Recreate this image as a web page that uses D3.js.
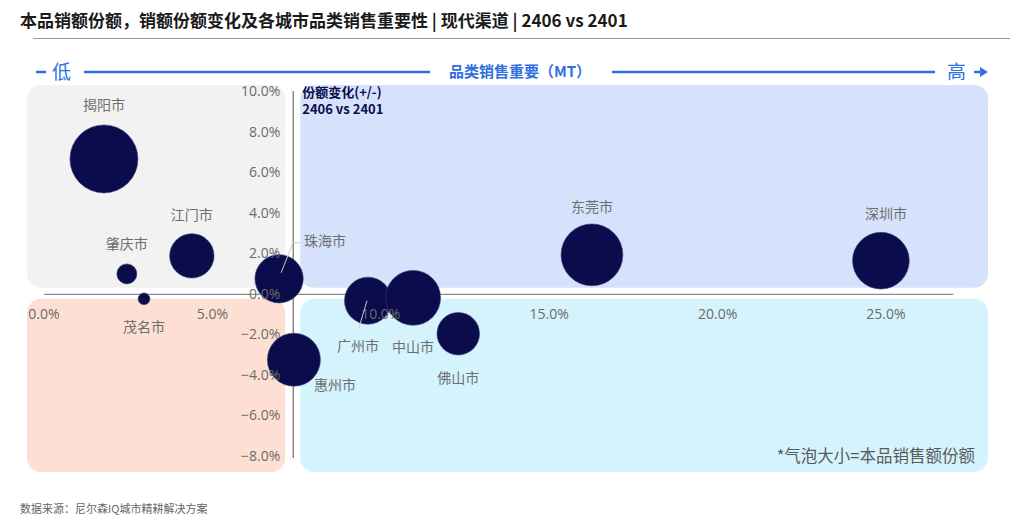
<!DOCTYPE html>
<html><head><meta charset="utf-8">
<script src="https://cdn.jsdelivr.net/npm/d3@7"></script>
<style>
body{margin:0;background:#fff;}
svg{display:block;font-family:"Noto Sans CJK SC","Noto Sans",sans-serif;}
</style></head>
<body><svg id="c" width="1024" height="523"></svg>
<script>
// ---- data ----
const cities      = ["揭阳市","江门市","肇庆市","茂名市","珠海市","惠州市","广州市","中山市","佛山市","东莞市","深圳市"];
const importance  = [1.78, 4.39, 2.46, 2.97, 6.98, 7.42, 9.62, 10.96, 12.30, 16.27, 24.85]; // x: 品类销售重要 (%)
const shareChange = [6.65, 1.87, 0.98, -0.25, 0.74, -3.25, -0.34, -0.20, -1.97, 1.92, 1.63]; // y: 份额变化 (%)
const salesShare  = [11.5, 4.9, 1.0, 0.35, 5.8, 7.0, 5.5, 7.5, 4.5, 9.5, 8.0]; // bubble size
const xTicks = [0, 5, 10, 15, 20, 25];
const yTicks = [10, 8, 6, 4, 2, 0, -2, -4, -6, -8];
const yAxisAt = 7.4; // x value where vertical axis crosses
// label offsets (dx, dy from bubble centre) and optional leader lines
const labelOffsets = [[0,-54],[0,-41],[0,-30],[0,28],[46,-38],[41,25],[-10,45],[0,49],[0,44],[0,-48],[5,-47]];
const leaders = {"珠海市":[[2,-6],[14,-36],[21,-36]], "广州市":[[-1,0],[-9,27]]};

const svg = d3.select("#c");
const x = d3.scaleLinear().domain([0, 28]).range([44, 987]);
const y = d3.scaleLinear().domain([-8, 10]).range([456, 91]);
const r = d3.scaleSqrt().domain([0, 11.5]).range([0, 34]);
const ax = x(yAxisAt), ay = y(0);

// title
svg.append("text").attr("x",20).attr("y",27).attr("font-size",17).attr("font-weight","bold").attr("fill","#1a1a1a")
  .text("本品销额份额，销额份额变化及各城市品类销售重要性 | 现代渠道 | 2406 vs 2401");
svg.append("line").attr("x1",33).attr("x2",1010).attr("y1",38.5).attr("y2",38.5).attr("stroke","#999").attr("stroke-width",1);

// header arrow
const blue = "#2f6fe0";
svg.append("line").attr("x1",36).attr("x2",46).attr("y1",72).attr("y2",72).attr("stroke",blue).attr("stroke-width",2.5);
svg.append("text").attr("x",52).attr("y",79).attr("font-size",19).attr("fill",blue).text("低");
svg.append("line").attr("x1",84).attr("x2",430).attr("y1",72).attr("y2",72).attr("stroke",blue).attr("stroke-width",2.5);
svg.append("text").attr("x",520).attr("y",77).attr("text-anchor","middle").attr("font-size",15).attr("font-weight","bold").attr("fill",blue).text("品类销售重要（MT）");
svg.append("line").attr("x1",612).attr("x2",935).attr("y1",72).attr("y2",72).attr("stroke",blue).attr("stroke-width",2.5);
svg.append("text").attr("x",947).attr("y",79).attr("font-size",19).attr("fill",blue).text("高");
svg.append("line").attr("x1",974).attr("x2",982).attr("y1",72).attr("y2",72).attr("stroke",blue).attr("stroke-width",2.5);
svg.append("path").attr("d","M980,67 L988,72 L980,77 Z").attr("fill",blue);

// quadrant backgrounds
const quads = [
  {x0:27, x1:ax-8, y0:85, y1:ay-6, fill:"#f2f2f2"},
  {x0:ax+7, x1:988, y0:85, y1:ay-6, fill:"#d6e2fb"},
  {x0:27, x1:ax-8, y0:ay+5, y1:472, fill:"#fde0d3"},
  {x0:ax+7, x1:988, y0:ay+5, y1:472, fill:"#d4f3fd"}
];
svg.selectAll("rect.q").data(quads).join("rect").attr("class","q")
  .attr("x",d=>d.x0).attr("y",d=>d.y0).attr("width",d=>d.x1-d.x0).attr("height",d=>d.y1-d.y0)
  .attr("rx",14).attr("fill",d=>d.fill);

// axis lines
svg.append("line").attr("x1",x(0)).attr("x2",x(27)).attr("y1",ay+0.5).attr("y2",ay+0.5).attr("stroke","#8c8c8c").attr("stroke-width",1.2);
svg.append("line").attr("x1",ax).attr("x2",ax).attr("y1",y(10)).attr("y2",y(-8.1)).attr("stroke","#6f6f6f").attr("stroke-width",1.2);

// y axis title
svg.append("text").attr("x",ax+9).attr("y",97).attr("font-size",13).attr("font-weight","bold").attr("fill","#0b0d4d").text("份额变化(+/-)");
svg.append("text").attr("x",ax+9).attr("y",114).attr("font-size",13).attr("font-weight","bold").attr("fill","#0b0d4d").text("2406 vs 2401");

// bubbles
const data = cities.map((c,i)=>({name:c, xv:importance[i], yv:shareChange[i], s:salesShare[i], off:labelOffsets[i]}));
svg.selectAll("circle.b").data(data).join("circle").attr("class","b")
  .attr("cx",d=>x(d.xv)).attr("cy",d=>y(d.yv)).attr("r",d=>r(d.s))
  .attr("fill","#0a0c4b").attr("stroke","#3a3f7a").attr("stroke-width",0.6);

// tick labels
const tickCol = "#6b6b6b";
svg.selectAll("text.xt").data(xTicks).join("text").attr("class","xt")
  .attr("x",d=>x(d)).attr("y",ay+25).attr("text-anchor","middle").attr("font-size",14).attr("fill",tickCol)
  .attr("font-family","'Open Sans','Noto Sans',sans-serif")
  .text(d=>d3.format(".1f")(d)+"%");
svg.selectAll("text.yt").data(yTicks).join("text").attr("class","yt")
  .attr("x",ax-13).attr("y",d=>y(d)+5).attr("text-anchor","end").attr("font-size",14).attr("fill",tickCol)
  .attr("font-family","'Open Sans','Noto Sans',sans-serif")
  .text(d=>d3.format(".1f")(d)+"%");

// leader lines
data.forEach(d=>{
  const L = leaders[d.name]; if(!L) return;
  svg.append("polyline").attr("points",L.map(p=>[x(d.xv)+p[0], y(d.yv)+p[1]].join(",")).join(" "))
    .attr("fill","none").attr("stroke","#c8c8c8").attr("stroke-width",1);
});

// city labels
svg.selectAll("text.lb").data(data).join("text").attr("class","lb")
  .attr("x",d=>x(d.xv)+d.off[0]).attr("y",d=>y(d.yv)+d.off[1]+5)
  .attr("text-anchor","middle").attr("font-size",14).attr("fill","#6e6e6e").text(d=>d.name);

// note
svg.append("text").attr("x",975).attr("y",462).attr("text-anchor","end").attr("font-size",16.5).attr("fill","#5a5a5a").text("*气泡大小=本品销售额份额");
// source
svg.append("text").attr("x",20).attr("y",513).attr("font-size",11).attr("fill","#666").text("数据来源：尼尔森IQ城市精耕解决方案");
</script></body></html>
